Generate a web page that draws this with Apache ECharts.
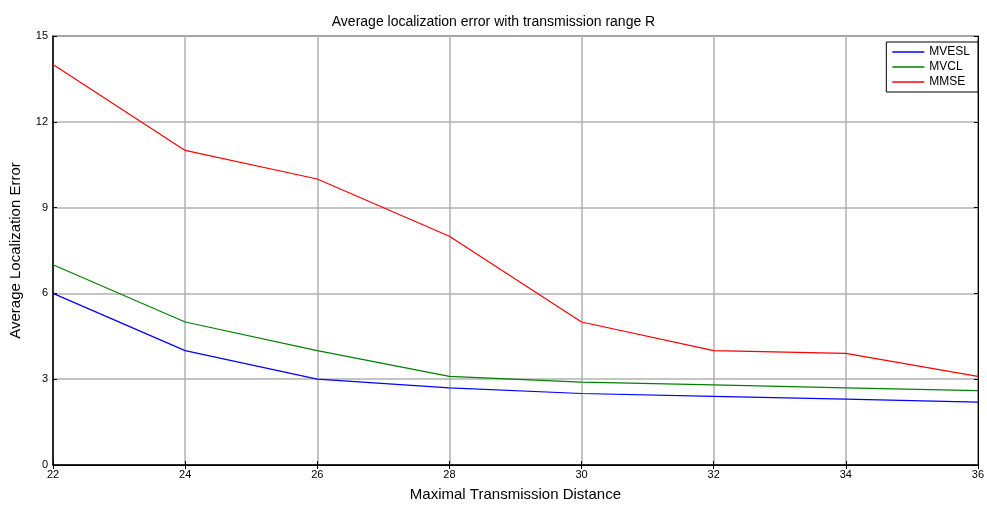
<!DOCTYPE html>
<html>
<head>
<meta charset="utf-8">
<script src="https://cdn.jsdelivr.net/npm/echarts@6/dist/echarts.min.js"></script>
<style>html,body{margin:0;padding:0;background:#fff;}#c{width:987px;height:507px;}</style>
</head>
<body>
<div id="c"></div>
<script>
const distances = [22, 24, 26, 28, 30, 32, 34, 36];
const mvesl = [6, 4, 3, 2.7, 2.5, 2.4, 2.3, 2.2];
const mvcl = [7, 5, 4, 3.1, 2.9, 2.8, 2.7, 2.6];
const mmse = [14, 11, 10, 8, 5, 4, 3.9, 3.1];
const seriesNames = ['MVESL', 'MVCL', 'MMSE'];
const seriesColors = ['#0000ff', '#008000', '#ff0000'];
const titleText = 'Average localization error with transmission range R';
const xName = 'Maximal Transmission Distance';
const yName = 'Average Localization Error';

const font = 'Liberation Sans, Arial, sans-serif';
const pairs = v => distances.map((d, i) => [d, v[i]]);
const chart = echarts.init(document.getElementById('c'));
const tickStyle = { show: true, inside: true, length: 4, lineStyle: { color: '#000', width: 1 } };
chart.setOption({
  animation: false,
  backgroundColor: '#fff',
  title: { text: titleText, left: 'center', top: 10, textStyle: { fontFamily: font, fontSize: 14, fontWeight: 'normal', color: '#000' } },
  grid: { left: 50, right: 5, top: 36, bottom: 37, show: true, borderColor: '#000', borderWidth: 1 },
  legend: {
    data: seriesNames, orient: 'vertical', right: 9, top: 42,
    backgroundColor: '#fff', borderColor: '#000', borderWidth: 1, borderRadius: 0,
    padding: [3, 8, 3, 6], itemGap: 1, itemWidth: 32, itemHeight: 1.5, icon: 'rect',
    textStyle: { fontFamily: font, fontSize: 12, color: '#000', lineHeight: 14 }
  },
  xAxis: [{
    type: 'value', min: 22, max: 36, interval: 2,
    name: xName, nameLocation: 'middle', nameGap: 22,
    nameTextStyle: { fontFamily: font, fontSize: 15, color: '#000' },
    axisLine: { show: true, lineStyle: { color: '#000', width: 1.5 } },
    axisTick: tickStyle,
    axisLabel: { fontFamily: font, fontSize: 11, color: '#000', margin: 4 },
    splitLine: { show: true, lineStyle: { color: '#b0b0b0', width: 1.5 } }
  }, {
    type: 'value', min: 22, max: 36, interval: 2, position: 'top',
    axisLine: { show: true, lineStyle: { color: '#000' } }, axisTick: tickStyle,
    axisLabel: { show: false }, splitLine: { show: false }
  }],
  yAxis: [{
    type: 'value', min: 0, max: 15, interval: 3,
    name: yName, nameLocation: 'middle', nameGap: 30,
    nameTextStyle: { fontFamily: font, fontSize: 15, color: '#000' },
    axisLine: { show: true, lineStyle: { color: '#000', width: 1.5 } },
    axisTick: tickStyle,
    axisLabel: { fontFamily: font, fontSize: 11, color: '#000', margin: 5 },
    splitLine: { show: true, lineStyle: { color: '#b0b0b0', width: 1.5 } }
  }, {
    type: 'value', min: 0, max: 15, interval: 3, position: 'right',
    axisLine: { show: true, lineStyle: { color: '#000' } }, axisTick: tickStyle,
    axisLabel: { show: false }, splitLine: { show: false }
  }],
  series: [
    { name: seriesNames[0], type: 'line', data: pairs(mvesl), symbol: 'none', color: seriesColors[0], lineStyle: { width: 1.2 } },
    { name: seriesNames[1], type: 'line', data: pairs(mvcl), symbol: 'none', color: seriesColors[1], lineStyle: { width: 1.2 } },
    { name: seriesNames[2], type: 'line', data: pairs(mmse), symbol: 'none', color: seriesColors[2], lineStyle: { width: 1.2 } }
  ]
});
</script>
</body>
</html>
